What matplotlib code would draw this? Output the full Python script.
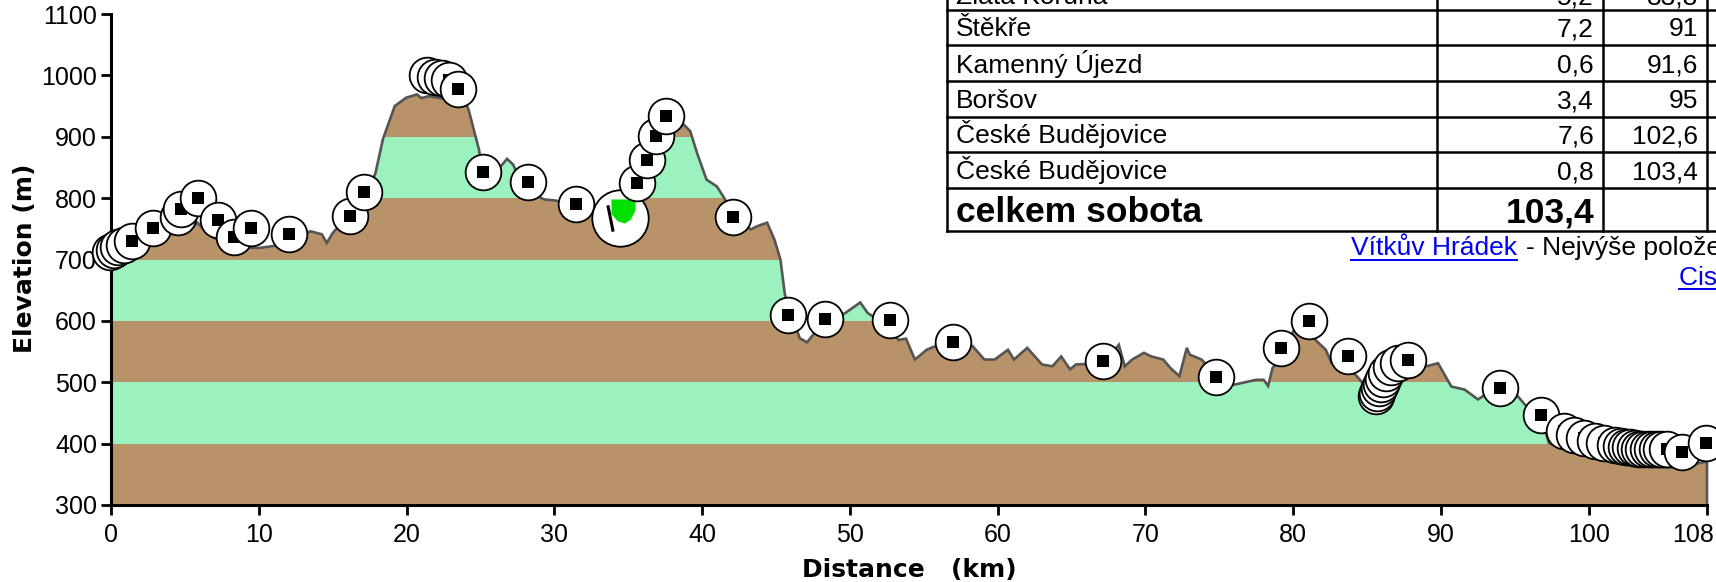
import matplotlib

matplotlib.use("Agg")
import matplotlib.pyplot as plt
from matplotlib.lines import Line2D
from matplotlib.patches import Polygon
from matplotlib.transforms import Affine2D, ScaledTranslation, offset_copy

W, H = 1716, 582

# elevation profile (km, m)
dist_km = [0.0, 0.5, 1.3, 2.0, 2.85, 3.9, 4.9, 5.5, 5.85, 6.5, 7.5, 8.5, 10.1, 11.0,
           12.0, 13.0, 13.5, 14.27, 14.6, 15.0, 15.8, 16.5, 17.2, 17.9, 18.4, 19.2,
           20.0, 20.3, 20.7, 21.0, 21.5, 22.5, 23.5, 23.9, 24.2, 24.9, 25.1, 25.6,
           26.2, 26.8, 27.2, 28.0, 29.3, 30.1, 31.4, 32.65, 33.5, 34.5, 35.3, 36.3,
           37.6, 38.75, 39.2, 39.65, 40.3, 41.0, 41.5, 42.5, 43.3, 43.7, 44.4, 44.9,
           45.3, 45.6, 46.2, 46.6, 47.1, 47.6, 48.5, 49.7, 50.7, 51.2, 52.0, 53.3,
           53.8, 54.4, 55.2, 55.7, 56.5, 57.5, 58.3, 59.1, 59.8, 60.7, 61.1, 62.0,
           63.0, 63.7, 64.3, 64.9, 65.3, 66.2, 67.5, 68.2, 68.6, 69.1, 69.9, 70.4,
           71.2, 71.7, 72.3, 72.8, 73.0, 73.8, 74.8, 76.0, 77.5, 78.0, 78.3, 78.6,
           79.3, 80.0, 81.1, 81.5, 82.2, 82.6, 83.6, 84.3, 85.0, 85.6, 86.3, 87.0,
           87.8, 88.5, 89.0, 89.8, 90.7, 91.6, 92.5, 93.2, 94.0, 95.2, 95.7, 96.8,
           97.3, 98.4, 100.7, 103.0, 105.3, 106.4, 108.0]
elev_m = [692, 700, 711, 718, 724, 741, 743, 752, 760, 743, 727, 719, 719, 722,
          728, 740, 746, 741, 727, 743, 765, 775, 800, 841, 896, 950,
          964, 966, 969, 963, 966, 962, 961, 961, 944, 879, 850, 845,
          847, 864, 855, 814, 798, 796, 787, 776, 768, 772, 790, 809,
          901, 920, 909, 874, 830, 819, 800, 760, 749, 754, 760, 732,
          700, 643, 600, 572, 565, 580, 600, 613, 630, 613, 600, 569,
          571, 537, 553, 558, 560, 565, 559, 537, 537, 553, 537, 556,
          529, 526, 542, 521, 529, 530, 540, 561, 526, 537, 548, 542,
          537, 523, 510, 556, 545, 537, 510, 496, 504, 504, 494, 523,
          545, 583, 600, 569, 553, 531, 525, 510, 490, 472, 490, 520,
          530, 528, 526, 531, 493, 488, 472, 483, 485, 477, 463, 440,
          401, 390, 374, 363, 361, 363, 371]

# waypoints along the route
wp_km = [-0.1, 0.2, 0.5, 0.9, 1.4, 2.85, 4.5, 4.75, 5.9, 7.25, 8.3, 9.46, 12.05,
         16.2, 17.1, 21.4, 21.9, 22.4, 22.9, 23.45, 25.2, 28.2, 31.45,
         35.6, 36.3, 36.9, 37.55, 42.1, 45.8, 48.3, 52.7, 57.0, 67.1, 74.8,
         79.15, 81.1, 83.7, 85.6, 85.7, 85.8, 85.95, 86.1, 86.3, 86.6, 87.1, 87.75,
         94.0, 96.75, 98.3, 99.0, 99.7, 100.4, 101.0, 101.8, 102.2, 102.5, 102.8,
         103.1, 103.4, 103.7, 104.0, 104.3, 104.6, 104.9, 105.3, 106.3, 107.9]
wp_elev = [712, 716, 720, 724, 730, 752, 770, 782, 800, 765, 736, 752, 741,
           771, 810, 1000, 998, 996, 993, 978, 843, 827, 790,
           824, 862, 901, 933, 770, 610, 603, 601, 565, 535, 509,
           555, 600, 542, 477, 483, 490, 497, 505, 515, 525, 532, 537,
           491, 447, 420, 414, 409, 404, 401, 397, 396, 395, 394,
           393, 392, 392, 392, 392, 392, 391, 391, 387, 401]
flag_km, flag_elev = 34.46, 768

band_edges = [300, 400, 500, 600, 700, 800, 900, 1000, 1100]
x_ticks = [0, 10, 20, 30, 40, 50, 60, 70, 80, 90, 100, 108]
y_ticks = [300, 400, 500, 600, 700, 800, 900, 1000, 1100]

# route table (top right, partly cut off)
tab_names = ["Zlatá Koruna", "Štěkře", "Kamenný Újezd", "Boršov",
             "České Budějovice", "České Budějovice"]
tab_leg = ["5,2", "7,2", "0,6", "3,4", "7,6", "0,8"]
tab_cum = ["83,8", "91", "91,6", "95", "102,6", "103,4"]
total_label = "celkem sobota"
total_value = "103,4"
link_main = "Vítkův Hrádek"
link_rest = "- Nejvýše položený hrad v Čechách"
link_second = "Cisterciácký klášter Zlatá Koruna"

BROWN = "#B89268"
GREEN = "#9CF2BE"
LINE = "#555555"
LINK = "#0000F0"

fig = plt.figure(figsize=(W / 100, H / 100), dpi=100)
fig.patch.set_facecolor("white")
ax = fig.add_axes([111 / W, 1 - 505 / H, (1707 - 111) / W, (505 - 14) / H])
ax.set_xlim(0, 108)
ax.set_ylim(300, 1100)

# profile polygon used as clip for the elevation bands
verts = [(dist_km[0], 300)] + list(zip(dist_km, elev_m)) + [(dist_km[-1], 300)]
ground = Polygon(verts, closed=True, facecolor="none", edgecolor="none")
ax.add_patch(ground)
for i, (lo, hi) in enumerate(zip(band_edges[:-1], band_edges[1:])):
    band = ax.axhspan(lo, hi, color=BROWN if i % 2 == 0 else GREEN, lw=0, zorder=1)
    band.set_clip_path(ground)

ax.plot(dist_km + [dist_km[-1]], elev_m + [300], color=LINE, lw=1.9, zorder=2,
        clip_on=False, solid_joinstyle="miter")

# waypoint icons, later ones stacked on top
n_before = sum(1 for k in wp_km if k < flag_km)
for i, (k, e) in enumerate(zip(wp_km, wp_elev)):
    z = 5 + 2 * i
    ax.scatter([k], [e], s=660, c="white", edgecolors="black", linewidths=1.3,
               zorder=z, clip_on=False)
    ax.scatter([k], [e], s=78, marker="s", c="black", linewidths=0,
               zorder=z + 1, clip_on=False)

zf = 5 + 2 * n_before - 0.6
ax.scatter([flag_km], [flag_elev], s=1650, c="white", edgecolors="black",
           linewidths=1.3, zorder=zf, clip_on=False)
flag_shape = [(-1, 1), (1, 1), (1, 0.1), (0.6, -0.7), (0.1, -1), (-0.5, -0.8), (-1, -0.2)]
ax.scatter([flag_km], [flag_elev], s=300, marker=flag_shape, c="#00E000", linewidths=0,
           zorder=zf + 0.2, clip_on=False,
           transform=offset_copy(ax.transData, fig=fig, x=3, y=7, units="dots"))
ax.scatter([flag_km], [flag_elev], s=360, marker=[(-0.2, 1), (0.2, -1)], c="black",
           linewidths=2.2, zorder=zf + 0.3, clip_on=False,
           transform=offset_copy(ax.transData, fig=fig, x=-10, y=0, units="dots"))

# axes styling
for side in ("top", "right"):
    ax.spines[side].set_visible(False)
for side in ("left", "bottom"):
    ax.spines[side].set_linewidth(2.2)
    ax.spines[side].set_zorder(3)
ax.set_xticks(x_ticks)
ax.set_yticks(y_ticks)
ax.tick_params(length=7, width=2, labelsize=18, color="black")
ax.tick_params(axis="x", pad=6)
ax.tick_params(axis="y", pad=3)
for lab in ax.get_xticklabels() + ax.get_yticklabels():
    lab.set_family("Liberation Sans")
# last distance label is kept inside the picture
last = ax.get_xticklabels()[-1]
last.set_horizontalalignment("right")
last.set_transform(last.get_transform() + ScaledTranslation(0.07, 0, fig.dpi_scale_trans))

px = Affine2D().scale(1 / W, -1 / H).translate(0, 1) + fig.transFigure

fig.text(909, 577, "Distance   (km)", transform=px, ha="center", va="baseline",
         fontsize=18, fontweight="bold", family="DejaVu Sans")
fig.text(25, 258, "Elevation (m)", transform=px, ha="center", va="center",
         rotation=90, fontsize=18, fontweight="bold", family="DejaVu Sans")

# table overlay
row_lines = [10, 44.5, 81, 117, 152, 188, 231]
col_lines = [947, 1437, 1603, 1707]
for y in row_lines:
    fig.add_artist(Line2D([col_lines[0], W + 10], [y, y], transform=px,
                          color="black", lw=1.8))
for x in col_lines:
    fig.add_artist(Line2D([x, x], [-5, row_lines[-1]], transform=px,
                          color="black", lw=1.8))

baselines = [4.5] + [b - 8.5 for b in row_lines[1:-1]]
tab_font = dict(transform=px, va="baseline", fontsize=19, family="Liberation Sans")
for name, leg, cum, yb in zip(tab_names, tab_leg, tab_cum, baselines):
    fig.text(col_lines[0] + 9, yb, name, ha="left", **tab_font)
    fig.text(col_lines[2] - 9, yb, leg, ha="right", **tab_font)
    fig.text(col_lines[3] - 9, yb, cum, ha="right", **tab_font)
fig.text(col_lines[0] + 9, row_lines[-1] - 9, total_label, ha="left", transform=px,
         va="baseline", fontsize=25.5, fontweight="bold", family="Liberation Sans")
fig.text(col_lines[2] - 9, row_lines[-1] - 9, total_value, ha="right", transform=px,
         va="baseline", fontsize=25.5, fontweight="bold", family="Liberation Sans")

# links under the table
renderer = fig.canvas.get_renderer()
t1 = fig.text(1351, 255, link_main, transform=px, ha="left", va="baseline",
              fontsize=19, family="Liberation Sans", color=LINK)
bb = t1.get_window_extent(renderer)
x_end = bb.x1 * W / fig.bbox.width
fig.add_artist(Line2D([1351, x_end], [259.5, 259.5], transform=px, color=LINK, lw=1.4))
fig.text(x_end + 9, 255, link_rest, transform=px, ha="left", va="baseline",
         fontsize=19, family="Liberation Sans", color="black")
fig.text(1679, 285, link_second, transform=px, ha="left", va="baseline",
         fontsize=19, family="Liberation Sans", color=LINK)
fig.add_artist(Line2D([1679, W + 10], [289, 289], transform=px, color=LINK, lw=1.4))

fig.savefig("out.png", dpi=100, facecolor="white")
